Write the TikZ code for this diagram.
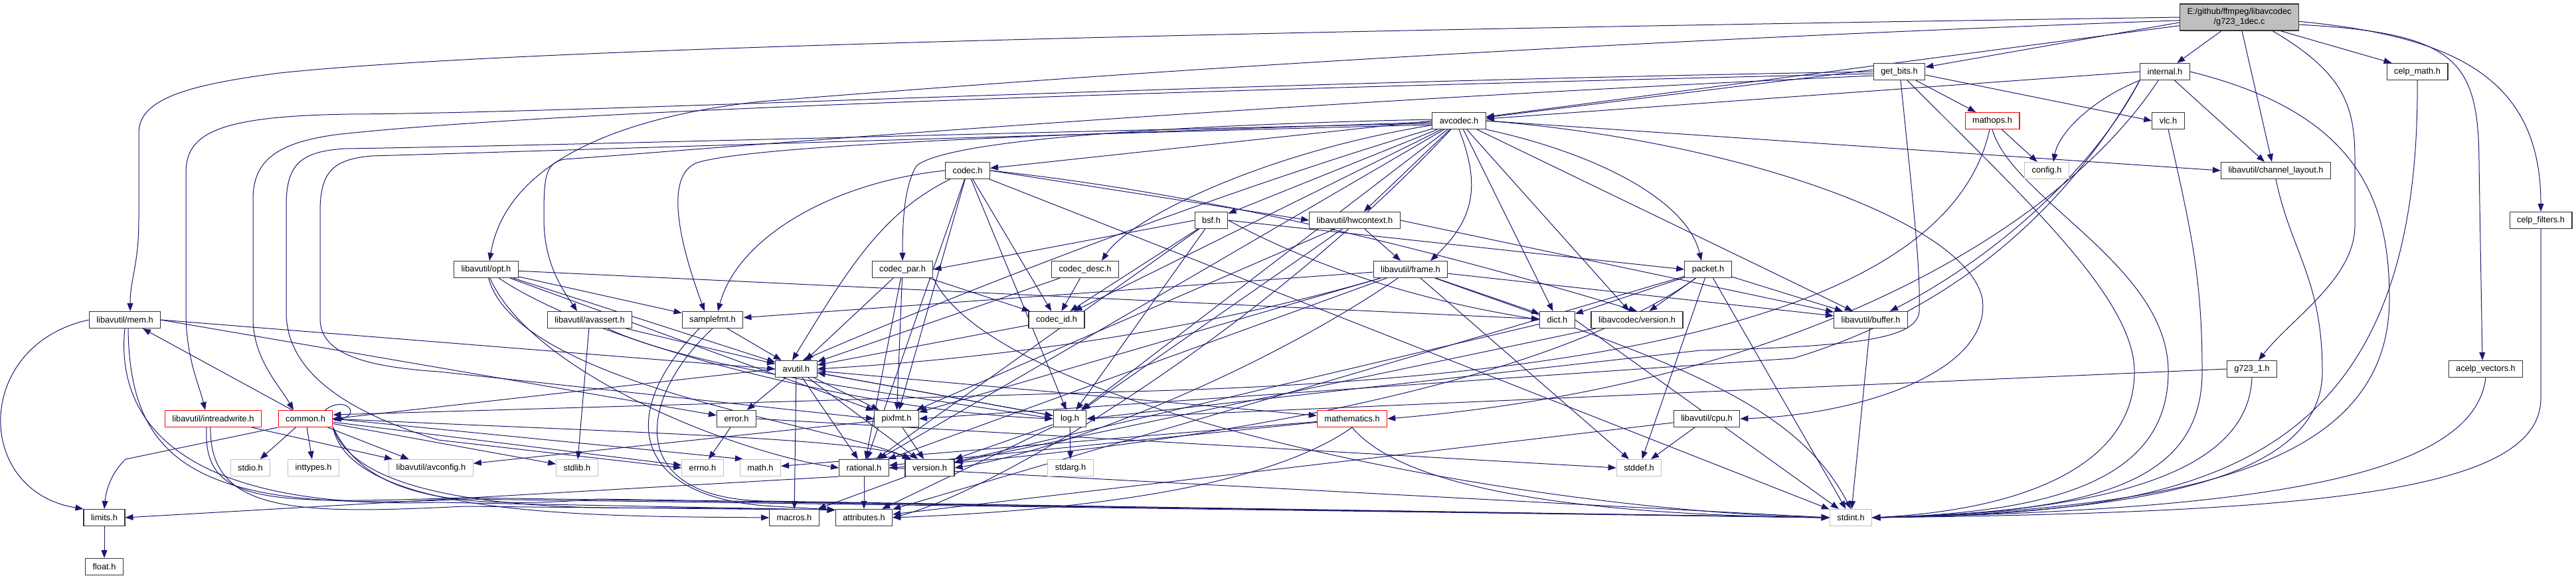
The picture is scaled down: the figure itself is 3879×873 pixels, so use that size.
\documentclass[tikz,border=0pt]{standalone}
\usepackage{fontspec}
\setmainfont{Liberation Sans}
\usetikzlibrary{arrows.meta}
\definecolor{edgeblue}{RGB}{25,25,112}
\definecolor{sysgray}{RGB}{191,191,191}
\pgfdeclarelayer{back}
\pgfsetlayers{back,main}

\begin{document}
\begin{tikzpicture}[x=1pt, y=-1pt,
  every node/.style={font=\fontsize{12.8}{15}\selectfont},
  hdr/.style={draw=black!80, fill=white, line width=1.2pt, minimum height=25pt, inner xsep=11pt, inner ysep=0pt},
  sys/.style={hdr, draw=sysgray},
  trunc/.style={hdr, draw=red},
  root/.style={hdr, fill=sysgray, align=center, minimum height=40pt},
  dep/.style={draw=edgeblue, line width=1pt, -{Triangle[length=12pt,width=9pt]}}]
	\useasboundingbox (0,0) rectangle (3879,873);

	\node[root] (top) at (3372,26) {E:/github/ffmpeg/libavcodec\\/g723\_1dec.c};
	\node[hdr] (getbits) at (2860,108) {get\_bits.h};
	\node[hdr] (internal) at (3260,108) {internal.h};
	\node[hdr] (celpmath) at (3640,108) {celp\_math.h};
	\node[hdr] (avcodec) at (2197,182) {avcodec.h};
	\node[trunc] (mathops) at (3000,182) {mathops.h};
	\node[hdr] (vlc) at (3265,182) {vlc.h};
	\node[hdr] (codec) at (1457,257) {codec.h};
	\node[sys] (config) at (3082,257) {config.h};
	\node[hdr] (chlayout) at (3427,257) {libavutil/channel\_layout.h};
	\node[hdr] (hwctx) at (2040,332) {libavutil/hwcontext.h};
	\node[hdr] (bsf) at (1824,332) {bsf.h};
	\node[hdr] (celpfilt) at (3826,332) {celp\_filters.h};
	\node[hdr] (opt) at (732,406) {libavutil/opt.h};
	\node[hdr] (codecpar) at (1359,406) {codec\_par.h};
	\node[hdr] (codecdesc) at (1634,406) {codec\_desc.h};
	\node[hdr] (frame) at (2124,406) {libavutil/frame.h};
	\node[hdr] (packet) at (2572,406) {packet.h};
	\node[hdr] (mem) at (188,482) {libavutil/mem.h};
	\node[hdr] (avassert) at (888,482) {libavutil/avassert.h};
	\node[hdr] (samplefmt) at (1073,482) {samplefmt.h};
	\node[hdr] (codecid) at (1591,482) {codec\_id.h};
	\node[hdr] (dict) at (2345,482) {dict.h};
	\node[hdr] (lavcver) at (2465,482) {libavcodec/version.h};
	\node[hdr] (buffer) at (2817,482) {libavutil/buffer.h};
	\node[hdr] (avutil) at (1199,556) {avutil.h};
	\node[hdr] (g723) at (3391,556) {g723\_1.h};
	\node[hdr] (acelpvec) at (3743,556) {acelp\_vectors.h};
	\node[trunc] (intrw) at (321,631) {libavutil/intreadwrite.h};
	\node[trunc] (common) at (460,631) {common.h};
	\node[hdr] (error) at (1109,631) {error.h};
	\node[hdr] (pixfmt) at (1350,631) {pixfmt.h};
	\node[hdr] (logh) at (1611,631) {log.h};
	\node[trunc] (mathem) at (2036,631) {mathematics.h};
	\node[hdr] (cpu) at (2570,631) {libavutil/cpu.h};
	\node[sys] (stdio) at (377,705) {stdio.h};
	\node[sys] (inttypes) at (472,705) {inttypes.h};
	\node[sys] (avconfig) at (649,705) {libavutil/avconfig.h};
	\node[sys] (stdlib) at (869,705) {stdlib.h};
	\node[sys] (errno) at (1058,705) {errno.h};
	\node[sys] (math) at (1145,705) {math.h};
	\node[hdr] (rational) at (1301,705) {rational.h};
	\node[hdr] (version) at (1400,705) {version.h};
	\node[sys] (stdarg) at (1612,705) {stdarg.h};
	\node[sys] (stddef) at (2468,705) {stddef.h};
	\node[hdr] (limits) at (157,780) {limits.h};
	\node[hdr] (macros) at (1196,780) {macros.h};
	\node[hdr] (attrib) at (1301,780) {attributes.h};
	\node[sys] (stdint) at (2787,780) {stdint.h};
	\node[hdr] (float) at (157,854) {float.h};

	\begin{pgfonlayer}{back}
	\draw[dep] (top.180) .. controls (2000,45) and (800,70) .. (421,110) .. controls (280,128) and (209,150) .. (209,200) -- (209,330) .. controls (209,400) and (196,420) .. ([xshift=8pt]mem.north);
	\draw[dep] (top.183) .. controls (2200,70) and (1500,125) .. (1145,153) .. controls (900,180) and (760,260) .. ([xshift=5pt]opt.north);
	\draw[dep] (top.185) -- (getbits);
	\draw[dep] (top.188) -- ([yshift=6pt]avcodec.east);
	\draw[dep] ([xshift=-27pt]top.south) -- (internal);
	\draw[dep] ([xshift=4pt]top.south) -- ([xshift=-6pt]chlayout.north);
	\draw[dep] ([xshift=50pt]top.south) .. controls (3530,110) and (3546,160) .. (3546,240) -- (3546,340) .. controls (3546,420) and (3450,480) .. ([xshift=10pt]g723.north);
	\draw[dep] ([xshift=62pt]top.south) -- ([xshift=8pt]celpmath.north west);
	\draw[dep] (top.-7) .. controls (3700,50) and (3733,90) .. (3733,250) -- ([xshift=-5pt]acelpvec.north);
	\draw[dep] (top.-4) .. controls (3700,55) and (3826,120) .. (celpfilt.north);

	\draw[dep] ([yshift=3pt]getbits.west) -- (avcodec);
	\draw[dep] (getbits.west) .. controls (1800,125) and (900,170) .. (526,172) .. controls (330,175) and (280,200) .. (280,260) -- (280,470) .. controls (280,540) and (300,580) .. ([xshift=-12pt]intrw.north);
	\draw[dep] ([yshift=-3pt]getbits.west) .. controls (1600,140) and (800,170) .. (505,203) .. controls (420,215) and (381,240) .. (381,300) -- (381,480) .. controls (381,540) and (420,580) .. ([xshift=-18pt]common.north);
	\draw[dep] ([yshift=-6pt]getbits.west) .. controls (1800,160) and (1000,230) .. (850,240) .. controls (820,245) and (819,270) .. (819,330) .. controls (819,400) and (850,440) .. ([xshift=-19pt]avassert.north);
	\draw[dep] (getbits) -- (mathops);
	\draw[dep] ([yshift=-5pt]getbits.east) -- (vlc.west);
	\draw[dep] ([xshift=2pt]getbits.south) .. controls (2880,300) and (2892,400) .. (2890,470) .. controls (2885,510) and (2800,522) .. (2560,528) -- (logh.east);
	\draw[dep] ([xshift=12pt]getbits.south) .. controls (3050,300) and (3214,450) .. (3214,560) .. controls (3214,700) and (3050,768) .. (stdint.east);

	\draw[dep] (internal.west) -- (avcodec);
	\draw[dep] (internal.south west) .. controls (3150,150) and (3100,200) .. ([xshift=10pt]config.north);
	\draw[dep] (internal) -- ([xshift=-17pt]chlayout.north);
	\draw[dep] (internal.south west) .. controls (3150,260) and (3000,390) .. ([xshift=29pt]buffer.north);
	\draw[dep] ([xshift=-10pt]internal.south) .. controls (3100,350) and (2700,580) .. (mathem.east);
	\draw[dep] (internal.south west) .. controls (3150,250) and (3000,450) .. (2700,540) -- (pixfmt.east);
	\draw[dep] (internal.east) .. controls (3550,170) and (3598,300) .. (3598,450) .. controls (3598,700) and (3300,765) .. (stdint.east);

	\draw[dep] (celpmath.south) .. controls (3645,720) and (3300,772) .. (stdint.east);
	\draw[dep] (celpfilt.south) -- (3826,600) .. controls (3826,740) and (3500,772) .. (stdint.east);
	\draw[dep] (acelpvec.south) .. controls (3725,720) and (3400,768) .. (stdint.east);
	\draw[dep] (g723.south) .. controls (3385,720) and (3150,772) .. (stdint.east);
	\draw[dep] (g723.west) -- (logh.east);
	\draw[dep] (vlc.south) .. controls (3300,350) and (3316,420) .. (3316,560) .. controls (3316,730) and (3150,772) .. (stdint.east);
	\draw[dep] (chlayout.south) .. controls (3450,380) and (3497,420) .. (3497,560) .. controls (3497,730) and (3200,772) .. (stdint.east);

	\draw[dep] (mathops) -- (config);
	\draw[dep] ([xshift=-4pt]mathops.south) .. controls (2940,450) and (2500,570) .. (1700,590) -- ([yshift=6pt]common.east);
	\draw[dep] (mathops.south) .. controls (3030,300) and (3265,400) .. (3265,560) .. controls (3265,720) and (3100,772) .. (stdint.east);

	\draw[dep] (avcodec.west) -- (codec);
	\draw[dep] (avcodec) -- (hwctx);
	\draw[dep] (avcodec) -- (bsf);
	\draw[dep] ([yshift=2pt]avcodec.west) .. controls (1700,190) and (1420,215) .. (1380,250) .. controls (1362,280) and (1359,330) .. (codecpar.north);
	\draw[dep] (avcodec) .. controls (1900,230) and (1700,330) .. ([xshift=25pt]codecdesc.north);
	\draw[dep] (avcodec) -- (codecid);
	\draw[dep] (avcodec.south) .. controls (2230,280) and (2220,330) .. ([xshift=30pt]frame.north);
	\draw[dep] (avcodec.south east) .. controls (2400,230) and (2540,300) .. ([xshift=-10pt]packet.north);
	\draw[dep] ([yshift=-2pt]avcodec.west) .. controls (1700,200) and (1150,215) .. (1050,245) .. controls (1010,260) and (1010,330) .. ([xshift=-12pt]samplefmt.north);
	\draw[dep] (avcodec) .. controls (1800,300) and (1400,460) .. ([xshift=10pt]avutil.north);
	\draw[dep] (avcodec) -- (buffer);
	\draw[dep] (avcodec.east) .. controls (2600,210) and (2960,330) .. (2985,450) .. controls (3000,560) and (2800,625) .. (cpu.east);
	\draw[dep] (avcodec.east) -- (chlayout.west);
	\draw[dep] (avcodec) -- (dict);
	\draw[dep] (avcodec) -- (logh);
	\draw[dep] ([yshift=-6pt]avcodec.west) .. controls (1500,205) and (900,225) .. (560,235) .. controls (500,240) and (482,260) .. (482,320) -- (482,480) .. controls (482,530) and (540,552) .. (660,560) -- (pixfmt.west);
	\draw[dep] (avcodec) -- (rational);
	\draw[dep] (avcodec) .. controls (1900,500) and (1500,740) .. (attrib.east);
	\draw[dep] ([yshift=-4pt]avcodec.west) .. controls (1500,200) and (900,218) .. (520,224) .. controls (450,228) and (431,250) .. (431,310) -- (431,470) .. controls (431,560) and (520,620) .. (660,663) -- (errno.west);
	\draw[dep] (avcodec) -- (lavcver);

	\draw[dep] (codec) .. controls (1330,320) and (1280,400) .. ([xshift=-6pt]avutil.north);
	\draw[dep] (codec.east) -- (hwctx.west);
	\draw[dep] (codec) -- (logh);
	\draw[dep] (codec) -- (pixfmt);
	\draw[dep] (codec) -- (rational);
	\draw[dep] (codec.west) .. controls (1250,275) and (1110,360) .. ([xshift=8pt]samplefmt.north);
	\draw[dep] (codec) -- (codecid);
	\draw[dep] (codec.east) .. controls (1900,300) and (2300,420) .. (lavcver.north);
	\draw[dep] (codec) -- (stdint);

	\draw[dep] (hwctx.east) -- (buffer);
	\foreach \dst in {frame,logh,pixfmt} \draw[dep] (hwctx) -- (\dst);

	\draw[dep] (bsf.east) .. controls (2050,440) and (2250,470) .. (dict.west);
	\foreach \dst in {logh,rational,codecid} \draw[dep] (bsf) -- (\dst);
	\draw[dep] (bsf.west) -- (codecpar.east);
	\draw[dep] (bsf.east) -- (packet.west);

	\draw[dep] (codecpar.south east) .. controls (1500,620) and (2300,770) .. (stdint.west);
	\foreach \dst in {avutil,rational,pixfmt,codecid} \draw[dep] (codecpar) -- (\dst);
	\draw[dep] (codecdesc) -- (avutil);
	\draw[dep] (codecdesc) -- (codecid);
	\draw[dep] (codecid) -- (avutil);

	\foreach \dst in {stddef,buffer,dict,rational,samplefmt,pixfmt} \draw[dep] (frame) -- (\dst);
	\draw[dep] (frame) .. controls (2500,540) and (2700,600) .. (stdint.north);
	\draw[dep] (frame) .. controls (1800,500) and (1500,540) .. (avutil.east);
	\draw[dep] (frame) .. controls (1900,560) and (1600,680) .. (version.east);

	\foreach \dst in {stddef,stdint,attrib,buffer,dict,lavcver} \draw[dep] (packet) -- (\dst);
	\draw[dep] (packet) .. controls (2300,600) and (1700,680) .. (rational.east);

	\foreach \dst in {avutil,dict,pixfmt,samplefmt} \draw[dep] (opt) -- (\dst);
	\draw[dep] (opt) .. controls (800,560) and (1100,680) .. (rational.west);
	\draw[dep] (opt) .. controls (900,520) and (1300,620) .. (logh.west);
	\draw[dep] (opt) .. controls (780,580) and (1250,640) .. ([xshift=10pt]version.north west);

	\draw[dep] (mem.west) .. controls (-40,520) and (-40,740) .. (limits.north west);
	\draw[dep] (mem.south) .. controls (175,620) and (250,770) .. (660,757) -- (attrib.165);
	\draw[dep] ([xshift=5pt]mem.south) .. controls (195,700) and (300,775) .. (700,752) -- (stdint.west);
	\draw[dep] (mem.east) -- (error);
	\draw[dep] (mem.east) -- (avutil.west);

	\draw[dep] (avassert) -- (stdlib);
	\draw[dep] (avassert) -- (avutil);
	\draw[dep] (avassert) .. controls (1050,560) and (1400,600) .. (logh.west);

	\draw[dep] (samplefmt.south) .. controls (960,600) and (940,750) .. (1150,755) -- (stdint.west);
	\draw[dep] (samplefmt) -- (avutil);
	\draw[dep] ([xshift=-20pt]samplefmt.south) .. controls (930,620) and (950,745) .. (1150,762) -- (attrib.165);

	\draw[dep] (dict.east) -- (stdint);
	\draw[dep] (dict) -- (version);
	\draw[dep] (lavcver) -- (version);
	\draw[dep] (buffer) -- (stdint);

	\draw[dep] (avutil.west) -- (common.east);
	\foreach \dst in {error,rational,version,macros,mathem,logh,pixfmt} \draw[dep] (avutil) -- (\dst);

	\draw[dep] ([xshift=-10pt]intrw.south) .. controls (305,760) and (400,760) .. (700,750) -- (stdint.west);
	\draw[dep] ([xshift=-4pt]intrw.south) .. controls (315,775) and (450,775) .. (700,763) -- (attrib.165);
	\draw[dep] (intrw) -- (avconfig);

	\draw[dep] ([xshift=-20pt]common.north) -- ([xshift=27pt]mem.south);
	\draw[dep] ([xshift=-12pt]common.north east) .. controls (520,595) and (545,625) .. ([yshift=-2pt]common.east);
	\foreach \dst in {stdio,inttypes,avconfig,stdlib,errno} \draw[dep] (common) -- (\dst);
	\draw[dep] (common.east) -- ([xshift=5pt]math.north west);
	\draw[dep] (common.east) .. controls (900,650) and (1300,660) .. ([xshift=8pt]version.north west);
	\draw[dep] (common.south east) .. controls (530,780) and (900,778) .. (macros.west);
	\draw[dep] (common.south east) .. controls (530,730) and (700,770) .. (1000,765) -- (attrib.165);
	\draw[dep] (common.south east) .. controls (540,720) and (620,775) .. (900,752) -- (stdint.west);
	\draw[dep] (common.south west) -- (189,692) .. controls (170,710) and (160,735) .. (limits.north);

	\draw[dep] (error) -- (errno);
	\draw[dep] (error.east) -- (stddef.west);
	\draw[dep] (pixfmt) -- (avconfig);
	\draw[dep] (pixfmt) -- (version);
	\foreach \dst in {stdarg,avutil,attrib,version} \draw[dep] (logh) -- (\dst);

	\draw[dep] (mathem.south) .. controls (2100,720) and (2300,775) .. (stdint.west);
	\draw[dep] (mathem) -- (math);
	\draw[dep] (mathem.south) .. controls (1900,740) and (1600,770) .. (attrib.east);
	\draw[dep] (mathem) -- (rational);

	\draw[dep] (cpu) -- (stddef);
	\draw[dep] (cpu) -- (attrib);

	\draw[dep] (rational.east) -- (stdint.west);
	\draw[dep] (rational.south west) -- (limits.east);
	\draw[dep] (rational) -- (attrib);
	\draw[dep] (version) -- (macros);
	\draw[dep] (limits) -- (float);
	\end{pgfonlayer}
\end{tikzpicture}
\end{document}
